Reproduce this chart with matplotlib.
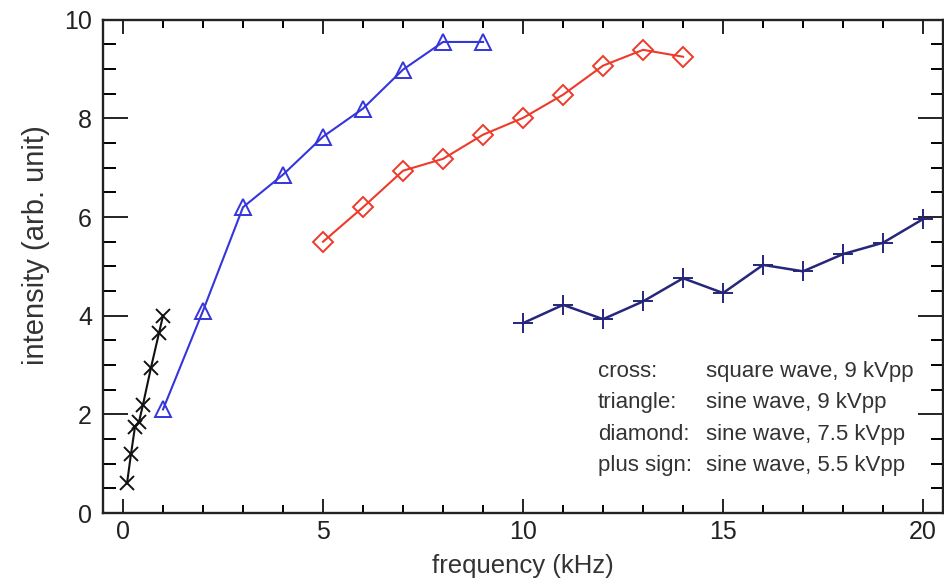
import matplotlib
matplotlib.use("Agg")
import matplotlib.pyplot as plt
from matplotlib.ticker import MultipleLocator

plt.rcParams['font.family'] = ['Liberation Sans', 'DejaVu Sans']

# cross: square wave, 9 kVpp
cross_x = [0.1, 0.2, 0.3, 0.4, 0.5, 0.7, 0.9, 1.0]
cross_y = [0.6, 1.2, 1.75, 1.85, 2.2, 2.95, 3.65, 4.0]
# triangle: sine wave, 9 kVpp
tri_x = [1, 2, 3, 4, 5, 6, 7, 8, 9]
tri_y = [2.1, 4.1, 6.2, 6.86, 7.63, 8.2, 8.99, 9.55, 9.55]
# diamond: sine wave, 7.5 kVpp
dia_x = [5, 6, 7, 8, 9, 10, 11, 12, 13, 14]
dia_y = [5.5, 6.2, 6.94, 7.18, 7.67, 8.01, 8.48, 9.07, 9.39, 9.25]
# plus sign: sine wave, 5.5 kVpp
plus_x = [10, 11, 12, 13, 14, 15, 16, 17, 18, 19, 20]
plus_y = [3.85, 4.22, 3.93, 4.29, 4.76, 4.46, 5.03, 4.9, 5.25, 5.48, 5.96]

legend_names = ["cross:", "triangle:", "diamond:", "plus sign:"]
legend_desc = ["square wave, 9 kVpp", "sine wave, 9 kVpp",
               "sine wave, 7.5 kVpp", "sine wave, 5.5 kVpp"]

fig = plt.figure(figsize=(9.45, 5.81), dpi=100)
ax = fig.add_axes([0.109, 0.117, 0.889, 0.849])

ax.plot(cross_x, cross_y, color='#111111', lw=1.5, marker='x', ms=10, mew=1.4)
ax.plot(tri_x, tri_y, color='#3535dc', lw=1.5, marker='^', ms=11, mfc='none', mew=1.4)
ax.plot(dia_x, dia_y, color='#ee3a2a', lw=1.5, marker='D', ms=10, mfc='none', mew=1.4)
ax.plot(plus_x, plus_y, color='#26267a', lw=1.8, marker='+', ms=14, mew=1.4)

ax.set_xlim(-0.5, 20.5)
ax.set_ylim(0, 10)
ax.xaxis.set_major_locator(MultipleLocator(5))
ax.xaxis.set_minor_locator(MultipleLocator(1))
ax.yaxis.set_major_locator(MultipleLocator(2))
ax.yaxis.set_minor_locator(MultipleLocator(0.5))

ax.tick_params(axis='x', which='major', direction='in', length=10, width=1.4,
               top=True, labelsize=18, pad=5, colors='#222222')
ax.tick_params(axis='x', which='minor', direction='in', length=6, width=1.4, top=True)
ax.tick_params(axis='y', which='major', direction='in', length=18, width=1.4,
               right=True, labelsize=18, pad=8, colors='#222222')
ax.tick_params(axis='y', which='minor', direction='in', length=9, width=1.4, right=True)
for s in ax.spines.values():
    s.set_linewidth(1.7)
    s.set_color('#222222')

ax.set_xlabel("frequency (kHz)", fontsize=18.5, color='#333333', labelpad=7)
ax.set_ylabel("intensity (arb. unit)", fontsize=21, color='#333333')
ax.yaxis.set_label_coords(-0.063, 0.544)

y0 = 0.286
dy = 0.0629
for i, (n, d) in enumerate(zip(legend_names, legend_desc)):
    ax.text(0.589, y0 - i * dy, n, transform=ax.transAxes, fontsize=16,
            color='#333333', va='center', ha='left')
    ax.text(0.718, y0 - i * dy, d, transform=ax.transAxes, fontsize=16,
            color='#333333', va='center', ha='left')

fig.savefig("out.png", dpi=100)
